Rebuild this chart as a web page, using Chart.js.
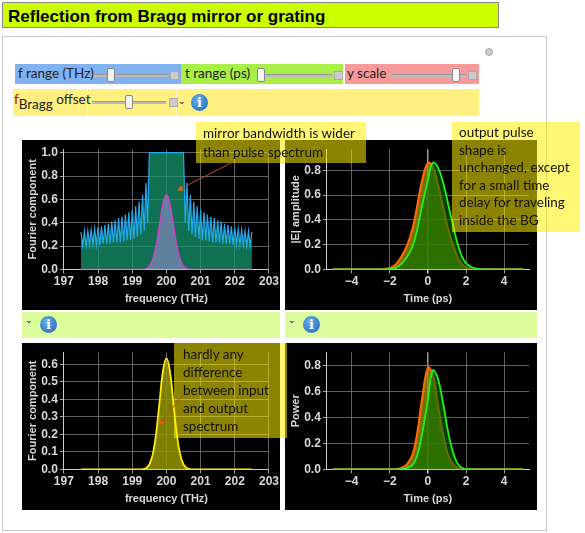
<!DOCTYPE html>
<html><head><meta charset="utf-8">
<script src="https://cdn.jsdelivr.net/npm/chart.js@4"></script>
<style>
body{margin:0;width:585px;height:533px;background:#fff;position:relative;overflow:hidden;font-family:"Liberation Sans",Arial,sans-serif}
.a{position:absolute;box-sizing:border-box}
.cv{position:absolute;background:#000}
.note{position:absolute;background:rgba(255,240,0,0.55);font-family:Lato,sans-serif;font-size:13.5px;line-height:19px;color:#111;padding:2px 7px;box-sizing:border-box;white-space:nowrap}
.lab{position:absolute;font-family:Lato,sans-serif;font-size:13.5px;color:#222}
.sl{position:absolute;height:2px;background:#bbb;border-top:1px solid #999}
.knob{position:absolute;width:6px;height:12px;background:#f4f4f4;border:1px solid #888;border-radius:2px}
.plus{position:absolute;width:7px;height:7px;background:#ccc;border:1px solid #aaa}
.info{position:absolute;width:17px;height:17px;border-radius:50%;background:radial-gradient(circle at 40% 35%,#6ab0f0,#1560b0);color:#fff;font:bold 13px "DejaVu Serif",serif;text-align:center;line-height:17px}
.chev{position:absolute;font:bold 9px "DejaVu Sans";color:#1a3a7a}
</style></head><body>
<div class="a" style="left:2px;top:2px;width:497px;height:26px;background:#ccff00;border:1px solid #888;font-weight:bold;font-size:17px;padding:4px 0 0 5px">Reflection from Bragg mirror or grating</div>
<div class="a" style="left:2px;top:36px;width:545px;height:495px;border:1px solid #c8c8c8"></div>
<div class="a" style="left:485px;top:48px;width:8px;height:8px;border-radius:50%;background:#ccc;border:1px solid #aaa"></div>
<div class="a" style="left:15px;top:64px;width:166px;height:20px;background:#80b2f2"></div>
<div class="a" style="left:181px;top:64px;width:162px;height:20px;background:#a8f048"></div>
<div class="a" style="left:345px;top:64px;width:134px;height:20px;background:#f89a9a"></div>
<div class="lab" style="left:18px;top:65px">f range (THz)</div>
<div class="lab" style="left:185px;top:65px">t range (ps)</div>
<div class="lab" style="left:347px;top:65px">y scale</div>
<div class="sl" style="left:94px;top:74px;width:74px"></div><div class="knob" style="left:107px;top:68px"></div><div class="plus" style="left:170px;top:71px"></div>
<div class="sl" style="left:258px;top:74px;width:74px"></div><div class="knob" style="left:257px;top:68px"></div><div class="plus" style="left:334px;top:71px"></div>
<div class="sl" style="left:392px;top:74px;width:74px"></div><div class="knob" style="left:452px;top:68px"></div><div class="plus" style="left:468px;top:71px"></div>
<div class="a" style="left:13px;top:89px;width:466px;height:27px;background:#fff080"></div>
<div class="a" style="left:87px;top:89px;width:90px;height:27px;border-left:1px solid #fff8c0;border-right:1px solid #fff8c0"></div>
<div class="lab" style="left:14px;top:91px"><span style="color:#b00">f</span><span style="position:relative;top:5px">Bragg</span> offset</div>
<div class="sl" style="left:92px;top:101px;width:74px"></div><div class="knob" style="left:125px;top:95px"></div><div class="plus" style="left:169px;top:98px"></div>
<div class="chev" style="left:178px;top:96px">&#8964;</div><div class="info" style="left:191px;top:94px">i</div>

<div class="a" style="left:22px;top:312px;width:258px;height:26px;background:#ddfc9c"></div>
<div class="a" style="left:285px;top:312px;width:252px;height:26px;background:#ddfc9c"></div>
<div class="chev" style="left:25px;top:315px">&#8964;</div><div class="info" style="left:40px;top:316px">i</div>
<div class="chev" style="left:288px;top:315px">&#8964;</div><div class="info" style="left:303px;top:316px">i</div>

<div class="cv" style="left:22px;top:140px;width:258px;height:170px"><canvas id="c1"></canvas></div>
<div class="cv" style="left:285px;top:140px;width:252px;height:170px"><canvas id="c2"></canvas></div>
<div class="cv" style="left:22px;top:343px;width:258px;height:167px"><canvas id="c3"></canvas></div>
<div class="cv" style="left:285px;top:343px;width:252px;height:167px"><canvas id="c4"></canvas></div>

<div class="note" style="left:196px;top:122px;width:170px;height:41px">mirror bandwidth is wider<br>than pulse spectrum</div>
<div class="note" style="left:452px;top:122px;width:128px;height:110px;line-height:17.5px">output pulse<br>shape is<br>unchanged, except<br>for a small time<br>delay for traveling<br>inside the BG</div>
<div class="note" style="left:174px;top:343px;width:113px;height:95px;padding-left:9px;line-height:18px">hardly any<br>difference<br>between input<br>and output<br>spectrum</div>
<svg class="a" style="left:0;top:0" width="585" height="533">
<defs><marker id="ah" markerWidth="6" markerHeight="6" refX="5" refY="3" orient="auto"><path d="M0,0 L6,3 L0,6 z" fill="#e06010"/></marker></defs>
<line x1="233" y1="162" x2="178" y2="190" stroke="#c05010" stroke-width="1" marker-end="url(#ah)"/>
<line x1="183" y1="395" x2="159" y2="425" stroke="#c05010" stroke-width="1" marker-end="url(#ah)"/>
</svg>
<script>
// Chart 1: Bragg reflectivity (blue) and input spectrum (magenta)
const braggFreq = [];
for (let i = 0; i <= 100; i++) braggFreq.push(+(197.5 + 0.05 * i).toFixed(2));
const braggRefl = [
 .32,.20,.33,.20,.33,.21,.34,.21,.35,.21,.36,.21,.37,.22,.38,.22,.39,.22,.41,.23,
 .42,.23,.44,.23,.45,.24,.47,.25,.49,.25,.51,.26,.54,.28,.58,.30,.64,.33,.74,.40,
 1,1,1,1,1,1,1,1,1,1,1,1,1,1,1,1,1,1,1,1,1,
 .40,.74,.33,.64,.30,.58,.28,.54,.26,.51,.25,.49,.25,.47,.24,.45,.23,.44,.23,.42,
 .23,.41,.22,.39,.22,.38,.22,.37,.21,.36,.21,.35,.21,.34,.21,.33,.20,.33,.20,.32];
const specFreq = [197.5,199.0,199.3,199.4,199.5,199.6,199.7,199.8,199.9,200.0,200.1,200.2,200.3,200.4,200.5,200.6,200.7,201.0,202.5];
const specIn  = [0,0,.001,.007,.028,.087,.208,.388,.565,.64,.565,.388,.208,.087,.028,.007,.001,0,0];
const specOut = [0,0,.001,.007,.028,.087,.208,.388,.565,.635,.565,.388,.208,.087,.028,.007,.001,0,0];
// Time domain
const timeT  = [-5,-2.75,-2.5,-2.2,-1.9,-1.65,-1.4,-1.1,-0.8,-0.55,-0.3,0,0.25,0.5,0.8,1.1,1.4,1.65,1.9,2.2,2.5,2.75,5];
const ampIn  = [0,0,.001,.005,.015,.045,.10,.19,.33,.52,.72,.86,.83,.70,.50,.30,.16,.07,.025,.008,.002,0,0];
const ampOut = [0,0,0,.001,.005,.015,.045,.10,.19,.33,.52,.72,.86,.83,.70,.50,.30,.16,.07,.025,.008,.002,0];
const powIn  = [0,0,0,0,.0002,.002,.011,.038,.115,.285,.547,.78,.728,.517,.264,.095,.027,.005,.001,0,0,0,0];
const powOut = [0,0,0,0,0,.0002,.002,.011,.037,.112,.278,.533,.76,.709,.504,.257,.093,.026,.005,.001,0,0,0];
const freqTicks = [197,198,199,200,201,202,203];
const timeTicks = [-4,-2,0,2,4];

const pts=(xs,ys)=>xs.map((x,i)=>({x:x,y:ys[i]}));
const font={family:"Liberation Sans",size:12,weight:'bold'};
const tc='#d8d8d8', gc='#777';
function scales(xmin,xmax,xt,ymin,ymax,ystep,ytitle,xtitle,zeroLine){
 return {
  x:{type:'linear',min:xmin,max:xmax,afterBuildTicks:a=>{a.ticks=xt.map(v=>({value:v}))},
     ticks:{color:tc,font:font,maxRotation:0,padding:1,callback:v=>v<0?'\u2212'+(-v):''+v},
     grid:{color:c=>zeroLine&&c.tick&&c.tick.value===0?'#999':gc,lineWidth:c=>zeroLine&&c.tick&&c.tick.value===0?1.5:0.8,tickColor:'#ccc',tickLength:4},
     border:{color:'#ccc'},title:{display:true,text:xtitle,color:tc,font:{family:"Liberation Sans",size:11,weight:'bold'},padding:{top:3}}},
  y:{min:ymin,max:ymax,afterBuildTicks:a=>{const t=[];for(let v=0;v<=ymax+1e-9;v=+(v+ystep).toFixed(2))t.push({value:v});a.ticks=t},
     ticks:{color:tc,font:font,padding:2,callback:v=>v.toFixed(1)},
     grid:{color:gc,lineWidth:0.8,tickColor:'#ccc',tickLength:4},border:{color:'#ccc'},
     title:{display:true,text:ytitle,color:tc,font:{family:"Liberation Sans",size:11,weight:'bold'},padding:{bottom:0}}}
 };
}
const base={responsive:true,maintainAspectRatio:false,animation:false,plugins:{legend:{display:false},tooltip:{enabled:false}},elements:{point:{radius:0}},layout:{padding:{top:6,right:8,left:0,bottom:0}}};
function opts(s){return Object.assign({},base,{scales:s});}

new Chart(c1,{type:'line',data:{datasets:[
 {data:pts(specFreq,specIn),borderColor:'#d040c8',borderWidth:1.5,fill:'origin',backgroundColor:'rgba(110,130,170,0.85)',tension:0.4},
 {data:pts(braggFreq,braggRefl),borderColor:'#22aaee',borderWidth:1.2,fill:'origin',backgroundColor:'rgba(20,150,110,0.75)',tension:0}
]},options:opts(scales(197,203,freqTicks,0,1.03,0.2,'Fourier component','frequency (THz)',false))});

new Chart(c2,{type:'line',data:{datasets:[
 {data:pts(timeT,ampOut),borderColor:'#22ee22',borderWidth:1.8,fill:'origin',backgroundColor:'rgba(0,110,0,0.6)',tension:0.4},
 {data:pts(timeT,ampIn),borderColor:'#ff6a00',borderWidth:2.2,fill:'origin',backgroundColor:'rgba(150,150,0,0.75)',tension:0.4}
]},options:opts(scales(-5.3,5.3,timeTicks,0,0.97,0.2,'|E| amplitude','Time (ps)',true))});

new Chart(c3,{type:'line',data:{datasets:[
 {data:pts(specFreq,specOut),borderColor:'#ffee00',borderWidth:1.8,fill:'origin',backgroundColor:'rgba(150,150,0,0.85)',tension:0.4}
]},options:opts(scales(197,203,freqTicks,0,0.67,0.1,'Fourier component','frequency (THz)',false))});

new Chart(c4,{type:'line',data:{datasets:[
 {data:pts(timeT,powOut),borderColor:'#22ee22',borderWidth:1.8,fill:'origin',backgroundColor:'rgba(0,110,0,0.6)',tension:0.4},
 {data:pts(timeT,powIn),borderColor:'#ff6a00',borderWidth:2.2,fill:'origin',backgroundColor:'rgba(150,150,0,0.75)',tension:0.4}
]},options:opts(scales(-5.3,5.3,timeTicks,0,0.9,0.2,'Power','Time (ps)',true))});
</script>
</body></html>
